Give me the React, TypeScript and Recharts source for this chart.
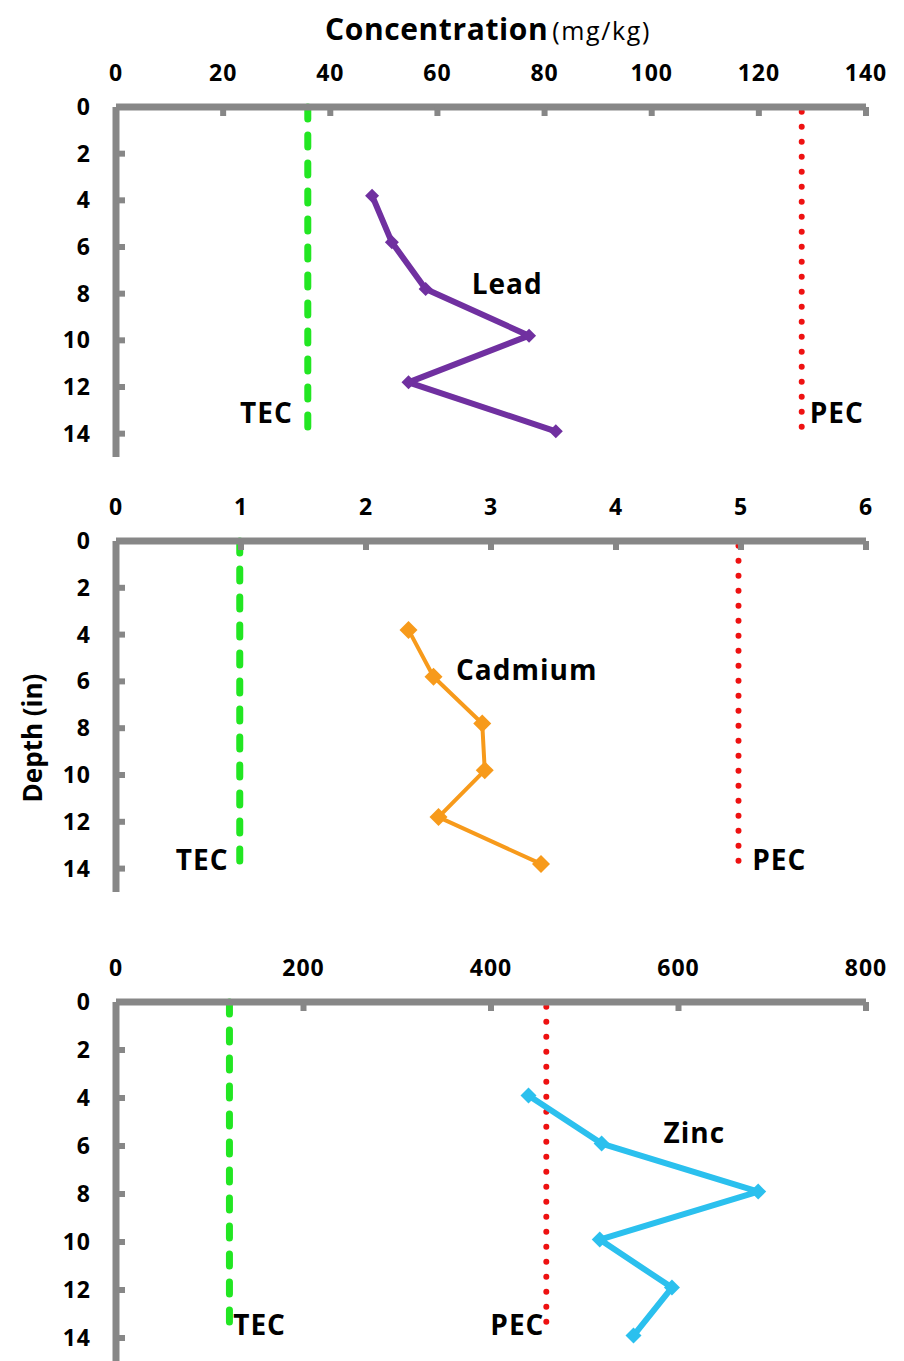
import React from 'react';
import { ScatterChart, Scatter, XAxis, YAxis, ReferenceLine, ReferenceDot } from 'recharts';

const FONT = '"Open Sans", "DejaVu Sans", sans-serif';
const AXIS_GREY = '#878787';
const TEC_GREEN = '#22E622';
const PEC_RED = '#EE1111';
const X_TICK_MARGIN = 26;
const Y_TICK_MARGIN = 25;

// depth axis, shared by all three panels
const DEPTH_TICKS = [0, 2, 4, 6, 8, 10, 12, 14];

// lead
const LEAD_TICKS = [0, 20, 40, 60, 80, 100, 120, 140];
const LEAD_DEPTH = [3.8, 5.8, 7.8, 9.8, 11.8, 13.9];
const LEAD_CONC = [47.8, 51.5, 57.8, 77.1, 54.6, 82.1];
const LEAD_TEC = 35.8;
const LEAD_PEC = 128;

// cadmium
const CADMIUM_TICKS = [0, 1, 2, 3, 4, 5, 6];
const CADMIUM_DEPTH = [3.8, 5.8, 7.8, 9.8, 11.8, 13.8];
const CADMIUM_CONC = [2.34, 2.54, 2.93, 2.95, 2.58, 3.4];
const CADMIUM_TEC = 0.99;
const CADMIUM_PEC = 4.98;

// zinc
const ZINC_TICKS = [0, 200, 400, 600, 800];
const ZINC_DEPTH = [3.9, 5.9, 7.9, 9.9, 11.9, 13.9];
const ZINC_CONC = [440, 518, 685, 516, 593, 552];
const ZINC_TEC = 121;
const ZINC_PEC = 459;

const toPoints = (conc: number[], depth: number[]) => conc.map((c, i) => ({ x: c, y: depth[i] }));

const XTick = ({ x, y, payload }: any) => (
  <g>
    {payload.value !== 0 && (
      <line x1={x} x2={x} y1={y + X_TICK_MARGIN} y2={y + X_TICK_MARGIN + 9} stroke={AXIS_GREY} strokeWidth={6} />
    )}
    <text x={x} y={y} textAnchor="middle" fontFamily={FONT} fontWeight={700} fontSize={23} letterSpacing={1} fill="#000">
      {payload.value}
    </text>
  </g>
);

const YTick = ({ x, y, payload }: any) => (
  <g>
    {payload.value !== 0 && (
      <line x1={x + Y_TICK_MARGIN} x2={x + Y_TICK_MARGIN + 9} y1={y} y2={y} stroke={AXIS_GREY} strokeWidth={6} />
    )}
    <text x={x} y={y + 8} textAnchor="end" fontFamily={FONT} fontWeight={700} fontSize={23} letterSpacing={1} fill="#000">
      {payload.value}
    </text>
  </g>
);

const diamond = (size: number, color: string) => (props: any) => {
  const { cx, cy } = props;
  const h = size / 2;
  return <polygon points={`${cx},${cy - h} ${cx + h},${cy} ${cx},${cy + h} ${cx - h},${cy}`} fill={color} />;
};

type Note = { text: string; x: number; y: number; anchor: 'start' | 'end' };

const noteLabel = (note: Note) => (p: any) => {
  const vb = p.viewBox || {};
  const cx = (vb.x ?? 0) + (vb.width ?? 0) / 2;
  const cy = (vb.y ?? 0) + (vb.height ?? 0) / 2;
  return (
    <text
      x={cx}
      y={cy + 10}
      textAnchor={note.anchor}
      fontFamily={FONT}
      fontWeight={700}
      fontSize={28}
      letterSpacing={1}
      fill="#000"
    >
      {note.text}
    </text>
  );
};

interface PanelProps {
  top: number;
  height: number;
  margin: { top: number; right: number; bottom: number; left: number };
  xMax: number;
  xTicks: number[];
  data: { x: number; y: number }[];
  color: string;
  lineWidth: number;
  markerSize: number;
  tec: number;
  pec: number;
  guideEnd: number;
  notes: Note[];
}

const Panel = ({ top, height, margin, xMax, xTicks, data, color, lineWidth, markerSize, tec, pec, guideEnd, notes }: PanelProps) => (
  <div style={{ position: 'absolute', left: 0, top }}>
    <ScatterChart width={904} height={height} margin={margin}>
      <XAxis
        type="number"
        dataKey="x"
        orientation="top"
        domain={[0, xMax]}
        ticks={xTicks}
        interval={0}
        height={40}
        tickSize={0}
        tickMargin={X_TICK_MARGIN}
        tickLine={false}
        axisLine={{ stroke: AXIS_GREY, strokeWidth: 7 }}
        tick={<XTick />}
      />
      <YAxis
        type="number"
        dataKey="y"
        reversed
        domain={[0, 15]}
        ticks={DEPTH_TICKS}
        interval={0}
        width={60}
        tickSize={0}
        tickMargin={Y_TICK_MARGIN}
        tickLine={false}
        axisLine={{ stroke: AXIS_GREY, strokeWidth: 7 }}
        tick={<YTick />}
      />
      <ReferenceLine
        segment={[{ x: tec, y: 0 }, { x: tec, y: guideEnd }]}
        stroke={TEC_GREEN}
        strokeWidth={7}
        strokeDasharray="12 16"
        strokeLinecap="round"
      />
      <ReferenceLine
        segment={[{ x: pec, y: 0.2 }, { x: pec, y: guideEnd }]}
        stroke={PEC_RED}
        strokeWidth={6}
        strokeDasharray="0 15"
        strokeLinecap="round"
      />
      <Scatter
        data={data}
        fill={color}
        line={{ stroke: color, strokeWidth: lineWidth, strokeLinejoin: 'round' }}
        lineType="joint"
        shape={diamond(markerSize, color)}
        isAnimationActive={false}
      />
      {notes.map((n) => (
        <ReferenceDot key={n.text} x={n.x} y={n.y} r={1} fill="none" stroke="none" ifOverflow="visible" label={noteLabel(n)} />
      ))}
    </ScatterChart>
  </div>
);

export default function App() {
  return (
    <div style={{ position: 'absolute', left: 0, top: 0, width: 904, height: 1361, overflow: 'hidden', background: '#fff' }}>
      <svg width={904} height={1361} style={{ position: 'absolute', left: 0, top: 0 }}>
        <text x={325} y={40} fontFamily={FONT} fill="#000">
          <tspan fontWeight={700} fontSize={30} letterSpacing={0.6}>Concentration</tspan>
          <tspan fontSize={25} dx={4} letterSpacing={1.6}>(mg/kg)</tspan>
        </text>
        <text
          transform="translate(42,738) rotate(-90)"
          textAnchor="middle"
          fontFamily={FONT}
          fontWeight={700}
          fontSize={26}
          fill="#000"
        >
          Depth (in)
        </text>
      </svg>
      <Panel
        top={0}
        height={470}
        margin={{ top: 67, right: 38, bottom: 13, left: 56 }}
        xMax={140}
        xTicks={LEAD_TICKS}
        data={toPoints(LEAD_CONC, LEAD_DEPTH)}
        color="#7030A0"
        lineWidth={6}
        markerSize={14}
        tec={LEAD_TEC}
        pec={LEAD_PEC}
        guideEnd={14}
        notes={[
          { text: 'Lead', x: 66.4, y: 7.6, anchor: 'start' },
          { text: 'TEC', x: 33, y: 13.1, anchor: 'end' },
          { text: 'PEC', x: 129.5, y: 13.1, anchor: 'start' },
        ]}
      />
      <Panel
        top={470}
        height={430}
        margin={{ top: 31, right: 38, bottom: 8, left: 56 }}
        xMax={6}
        xTicks={CADMIUM_TICKS}
        data={toPoints(CADMIUM_CONC, CADMIUM_DEPTH)}
        color="#F79A1B"
        lineWidth={4}
        markerSize={18}
        tec={CADMIUM_TEC}
        pec={CADMIUM_PEC}
        guideEnd={13.8}
        notes={[
          { text: 'Cadmium', x: 2.72, y: 5.5, anchor: 'start' },
          { text: 'TEC', x: 0.9, y: 13.65, anchor: 'end' },
          { text: 'PEC', x: 5.09, y: 13.65, anchor: 'start' },
        ]}
      />
      <Panel
        top={900}
        height={462}
        margin={{ top: 62, right: 38, bottom: 0, left: 56 }}
        xMax={800}
        xTicks={ZINC_TICKS}
        data={toPoints(ZINC_CONC, ZINC_DEPTH)}
        color="#2BC0EE"
        lineWidth={6}
        markerSize={16}
        tec={ZINC_TEC}
        pec={ZINC_PEC}
        guideEnd={13.5}
        notes={[
          { text: 'Zinc', x: 584, y: 5.45, anchor: 'start' },
          { text: 'TEC', x: 125, y: 13.45, anchor: 'start' },
          { text: 'PEC', x: 457, y: 13.45, anchor: 'end' },
        ]}
      />
    </div>
  );
}
